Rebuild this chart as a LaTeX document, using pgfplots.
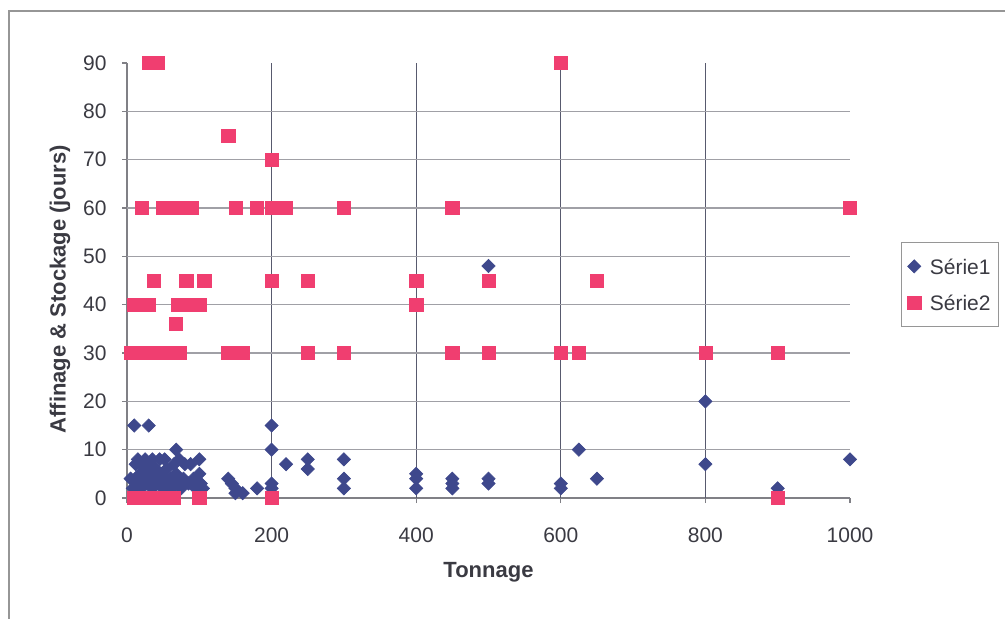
\documentclass[border=0pt]{standalone}
\usepackage{fontspec}
\setmainfont{Liberation Sans}
\usepackage{pgfplots}
\usepackage{pgfplotstable}
\pgfplotsset{compat=1.18}

\definecolor{serieA}{RGB}{62,72,140}
\definecolor{serieB}{RGB}{240,62,112}
\definecolor{txt}{RGB}{58,58,66}
\definecolor{hgrid}{RGB}{160,160,166}
\definecolor{vgrid}{RGB}{88,90,110}
\definecolor{axisgray}{RGB}{128,128,134}
\definecolor{framegray}{RGB}{150,150,150}

% Série1 : tonnage / durée
\pgfplotstableread{
x y
5 4
8 2
10 15
12 4
12 7
15 3
15 8
18 5
20 2
20 7
22 4
25 8
25 6
28 3
30 15
30 5
32 7
35 2
35 8
38 4
40 6
42 3
45 8
48 5
50 2
50 4
52 8
55 6
58 3
60 4
62 2
65 7
68 10
68 5
70 3
72 8
75 2
78 4
80 7
85 3
88 7
92 4
95 2
100 8
100 5
102 3
105 2
140 4
145 3
150 2
150 1
160 1
180 2
200 15
200 10
200 3
200 2
220 7
250 8
250 6
300 8
300 4
300 2
400 5
400 4
400 2
450 4
450 3
450 2
500 48
500 4
500 3
600 3
600 2
625 10
650 4
800 20
800 7
900 2
1000 8
}\serieone

% Série2 : tonnage / durée
\pgfplotstableread{
x y
10 0
20 0
30 0
40 0
50 0
60 0
65 0
100 0
200 0
900 0
5 30
15 30
25 30
35 30
45 30
55 30
65 30
73 30
140 30
150 30
160 30
250 30
300 30
450 30
500 30
600 30
625 30
800 30
900 30
68 36
10 40
20 40
30 40
70 40
85 40
100 40
400 40
37 45
82 45
107 45
200 45
250 45
400 45
500 45
650 45
20 60
50 60
60 60
70 60
90 60
150 60
180 60
200 60
220 60
300 60
450 60
1000 60
200 70
140 75
30 90
42 90
600 90
}\serietwo

\begin{document}
\begin{tikzpicture}
\useasboundingbox (0,0) rectangle (502.5pt,-309pt);
\draw[framegray, line width=0.6pt] (4.5pt,-5.5pt) rectangle (530pt,-340pt);
\begin{axis}[
  at={(63.5pt,-249pt)}, anchor=south west,
  scale only axis, width=361.5pt, height=217.5pt,
  xmin=0, xmax=1000, ymin=0, ymax=90,
  clip=false,
  axis x line*=bottom, axis y line*=left,
  axis line style={axisgray, line width=0.6pt},
  xtick={0,200,...,1000}, ytick={0,10,...,90},
  tick align=outside, major tick length=2.5pt,
  tick style={axisgray, line width=0.6pt},
  extra x ticks={200,400,600,800}, extra x tick labels={},
  extra x tick style={grid=major, major tick length=0pt,
    major grid style={vgrid, line width=0.6pt}},
  extra y ticks={10,20,...,80}, extra y tick labels={},
  extra y tick style={grid=major, major tick length=0pt,
    major grid style={hgrid, line width=0.6pt}},
  /pgf/number format/assume math mode=true,
  /pgf/number format/1000 sep={},
  ticklabel style={font=\fontsize{10.5}{12}\selectfont, text=txt},
  yticklabel style={anchor=east, inner sep=0pt, xshift=-7.5pt},
  xticklabel style={anchor=north, inner sep=0pt, yshift=-12pt},
  xlabel={Tonnage},
  ylabel={Affinage \& Stockage (jours)},
  label style={font=\bfseries\fontsize{11}{13}\selectfont, text=txt},
  xlabel style={at={(axis description cs:0.5,-0.170)}, anchor=center},
  ylabel style={at={(axis description cs:-0.0927,0.48)}, anchor=center},
  legend image code/.code={\draw[mark repeat=2,mark phase=2,#1]
    plot coordinates {(0pt,0pt) (3pt,0pt) (6pt,0pt)};},
  legend cell align=left,
  legend style={at={(axis description cs:1.0705,0.5885)}, anchor=north west,
    draw=framegray, line width=0.6pt, fill=white,
    font=\fontsize{10.5}{12}\selectfont, text=txt,
    inner xsep=3pt, inner ysep=7pt, row sep=8.5pt, column sep=3.5pt,
    nodes={inner sep=1pt, text depth=0pt}},
]
\addplot[only marks, mark=square*, mark size=2.35pt,
  mark options={rotate=45, fill=serieA, draw=serieA, line width=0.3pt}]
  table[x=x, y=y] {\serieone};
\addlegendentry{Série1}
\addplot[only marks, mark=square*, mark size=3.3pt,
  mark options={fill=serieB, draw=serieB, line width=0.3pt}]
  table[x=x, y=y] {\serietwo};
\addlegendentry{Série2}
\end{axis}
\end{tikzpicture}
\end{document}
